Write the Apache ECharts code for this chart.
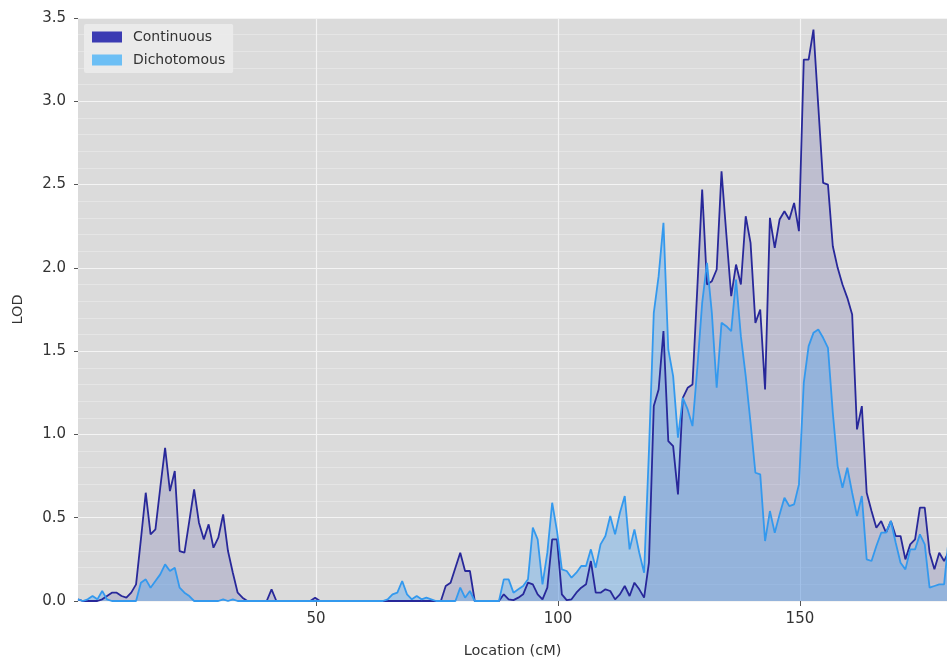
<!DOCTYPE html>
<html>
<head>
<meta charset="utf-8">
<script src="https://cdn.jsdelivr.net/npm/echarts@6/dist/echarts.min.js"></script>
<style>
html,body{margin:0;padding:0;background:#fff;}
#chart{width:947px;height:665px;}
</style>
</head>
<body>
<div id="chart"></div>
<script>
// Location grid: first marker position and spacing (cM)
const LOCATION_START = 0.8;
const LOCATION_STEP = 1;

// LOD, Continuous trait
const continuous = [
  0.01,0,0,0,0,0.01,0.03,0.05,0.05,0.03,
  0.02,0.05,0.10,0.37,0.65,0.40,0.43,0.68,0.92,0.66,
  0.78,0.30,0.29,0.48,0.67,0.47,0.37,0.46,0.32,0.38,
  0.52,0.30,0.17,0.05,0.02,0,0,0,0,0,
  0.07,0,0,0,0,0,0,0,0,0.02,
  0,0,0,0,0,0,0,0,0,0,
  0,0,0,0,0,0,0,0,0,0,
  0,0,0,0,0,0,0.09,0.11,0.20,0.29,
  0.18,0.18,0,0,0,0,0,0,0.04,0.01,
  0.005,0.02,0.04,0.11,0.10,0.04,0.01,0.08,0.37,0.37,
  0.04,0.005,0.01,0.05,0.08,0.10,0.24,0.05,0.05,0.07,
  0.06,0.01,0.04,0.09,0.03,0.11,0.07,0.02,0.23,1.17,
  1.27,1.62,0.96,0.93,0.64,1.22,1.28,1.30,1.88,2.47,
  1.90,1.92,1.99,2.58,2.20,1.83,2.02,1.90,2.31,2.15,
  1.67,1.75,1.27,2.30,2.12,2.29,2.34,2.29,2.39,2.22,
  3.25,3.25,3.43,2.97,2.51,2.50,2.13,2.00,1.90,1.82,
  1.72,1.03,1.17,0.65,0.54,0.44,0.48,0.41,0.48,0.39,
  0.39,0.25,0.34,0.37,0.56,0.56,0.29,0.19,0.29,0.24,
  0.30
];

// LOD, Dichotomous trait
const dichotomous = [
  0.01,0,0.01,0.03,0.01,0.06,0.01,0,0,0,
  0,0,0,0.11,0.13,0.08,0.12,0.16,0.22,0.18,
  0.20,0.08,0.05,0.03,0,0,0,0,0,0,
  0.01,0,0.01,0,0,0,0,0,0,0,
  0,0,0,0,0,0,0,0,0,0,
  0,0,0,0,0,0,0,0,0,0,
  0,0,0,0,0.01,0.04,0.05,0.12,0.04,0.01,
  0.03,0.01,0.02,0.01,0,0,0,0,0,0.08,
  0.02,0.06,0,0,0,0,0,0,0.13,0.13,
  0.05,0.07,0.09,0.13,0.44,0.37,0.10,0.29,0.59,0.42,
  0.19,0.18,0.14,0.17,0.21,0.21,0.31,0.20,0.34,0.39,
  0.51,0.40,0.53,0.63,0.31,0.43,0.29,0.17,0.90,1.73,
  1.95,2.27,1.51,1.35,0.98,1.22,1.15,1.05,1.40,1.79,
  2.03,1.73,1.28,1.67,1.65,1.62,1.93,1.59,1.35,1.07,
  0.77,0.76,0.36,0.54,0.41,0.52,0.62,0.57,0.58,0.70,
  1.31,1.53,1.61,1.63,1.58,1.52,1.13,0.81,0.68,0.80,
  0.65,0.51,0.63,0.25,0.24,0.33,0.41,0.41,0.48,0.35,
  0.23,0.19,0.31,0.31,0.40,0.34,0.08,0.09,0.10,0.10,
  0.39
];

const seriesNames = ['Continuous', 'Dichotomous'];
const xTicks = [50, 100, 150];

const locations = continuous.map((_, i) => LOCATION_START + i * LOCATION_STEP);
const pairs = vals => vals.map((v, i) => [locations[i], v]);

const FONT = 'DejaVu Sans';
const chart = echarts.init(document.getElementById('chart'), null, {renderer: 'canvas'});

chart.setOption({
  animation: false,
  backgroundColor: '#ffffff',
  grid: {
    left: 78, right: 0, top: 18, bottom: 64,
    show: true, backgroundColor: '#dbdbdb', borderWidth: 0
  },
  legend: {
    data: [
      {name: seriesNames[0], itemStyle: {color: '#3b3bb3'}},
      {name: seriesNames[1], itemStyle: {color: '#6cbff5'}}
    ],
    orient: 'vertical',
    left: 84, top: 24,
    padding: [6, 8, 6, 8],
    itemWidth: 30, itemHeight: 11, itemGap: 9,
    icon: 'rect',
    selectedMode: false,
    backgroundColor: 'rgba(236,236,236,0.92)',
    borderRadius: 2,
    textStyle: {fontFamily: FONT, fontSize: 14, color: '#333', padding: [0, 0, 0, 6]}
  },
  xAxis: {
    type: 'value',
    min: LOCATION_START, max: 180.4,
    name: 'Location (cM)',
    nameLocation: 'middle', nameGap: 43,
    nameTextStyle: {fontFamily: FONT, fontSize: 14.5, color: '#333'},
    axisLine: {show: false},
    axisTick: {show: true, customValues: xTicks, length: 5, lineStyle: {color: '#555'}},
    axisLabel: {customValues: xTicks, margin: 11, fontFamily: FONT, fontSize: 15, color: '#333'},
    splitLine: {show: true, lineStyle: {color: '#f4f4f4', width: 1.2}}
  },
  yAxis: {
    type: 'value',
    min: 0, max: 3.5, interval: 0.5,
    name: 'LOD',
    nameLocation: 'middle', nameGap: 52,
    nameTextStyle: {fontFamily: FONT, fontSize: 14.5, color: '#333'},
    axisLine: {show: false},
    axisTick: {show: true, length: 4, lineStyle: {color: '#555'}},
    axisLabel: {margin: 12, fontFamily: FONT, fontSize: 15, color: '#333',
      formatter: v => v.toFixed(1)},
    splitLine: {show: true, lineStyle: {color: '#f4f4f4', width: 1.2}},
    minorTick: {show: false, splitNumber: 5},
    minorSplitLine: {show: true, lineStyle: {color: 'rgba(255,255,255,0.35)', width: 0.8}}
  },
  series: [
    {
      name: seriesNames[0], type: 'line', data: pairs(continuous),
      showSymbol: false, z: 1,
      lineStyle: {width: 0, color: '#28289a'},
      itemStyle: {color: '#3b3bb3'},
      areaStyle: {color: 'rgba(45,45,150,0.24)', origin: 'start'}
    },
    {
      name: seriesNames[1], type: 'line', data: pairs(dichotomous),
      showSymbol: false, z: 2,
      lineStyle: {width: 0, color: '#3399ee'},
      itemStyle: {color: '#6cbff5'},
      areaStyle: {color: 'rgba(70,160,240,0.5)', origin: 'start'}
    },
    {
      name: seriesNames[0], type: 'line', data: pairs(continuous),
      showSymbol: false, z: 3,
      lineStyle: {width: 1.8, color: '#28289a'},
      itemStyle: {color: '#3b3bb3'}
    },
    {
      name: seriesNames[1], type: 'line', data: pairs(dichotomous),
      showSymbol: false, z: 4,
      lineStyle: {width: 1.8, color: '#3399ee'},
      itemStyle: {color: '#6cbff5'}
    }
  ]
});
</script>
</body>
</html>
